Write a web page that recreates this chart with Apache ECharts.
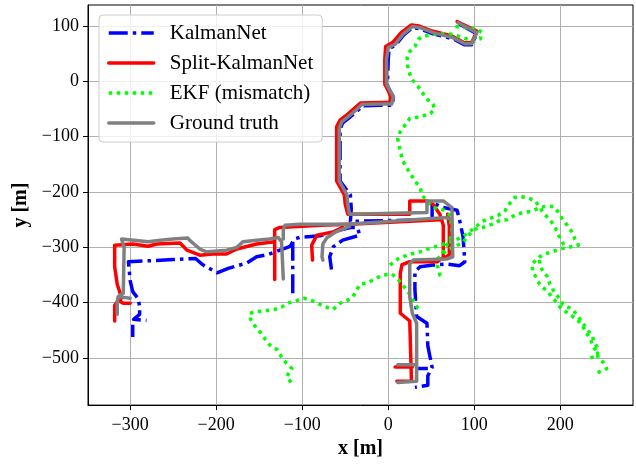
<!DOCTYPE html>
<html>
<head>
<meta charset="utf-8">
<script src="https://cdn.jsdelivr.net/npm/echarts@6/dist/echarts.min.js"></script>
<style>
  html, body { margin: 0; padding: 0; background: #fff; }
  #chart { width: 636px; height: 464px; }
</style>
</head>
<body>
<div id="chart"></div>
<script>
// ========= ticks =========
const xTicks = [-300, -200, -100, 0, 100, 200];
const yTicks = [-500, -400, -300, -200, -100, 0, 100];

// ========= KalmanNet =========
const knTop = [[82,104],[103,86],[97,66],[89,66],[75,77],[52,86],[37,95],[28,97],[18,84],[9,66],[1,59],[0,40],[-1,-8],[2,-17],[6,-28],[5,-43],[-10,-43],[-30,-44],[-35,-52],[-44,-64],[-53,-75],[-56,-87],[-56,-180],[-44,-205],[-43,-230],[-44,-253],[51,-250],[51,-219],[64,-228],[80,-233],[83,-251],[87,-281],[89,-326],[83,-333],[68,-330],[52,-332],[37,-335],[31,-344],[31,-376],[33,-425],[45,-437],[46,-478],[51,-517],[46,-532],[46,-549],[31,-553]];
const knE = [[33,-519],[46,-519]];
const knMid = [[-111,-383],[-111,-290],[-108,-284],[-103,-282],[-79,-279],[-60,-270],[-44,-264],[-36,-264],[-33,-278],[-53,-287],[-64,-299],[-68,-317],[-66,-340]];
const knLeft = [[-111,-290],[-114,-298],[-126,-305],[-140,-313],[-153,-317],[-164,-328],[-186,-338],[-199,-346],[-216,-331],[-224,-320],[-250,-322],[-302,-326],[-300,-360],[-297,-380],[-291,-392],[-289,-406],[-289,-421],[-296,-430],[-281,-432]];
const knTail = [[-297,-440],[-297,-462]];

// ========= Split-KalmanNet =========
const skTop = [[80,108],[103,91],[97,70],[88,70],[74,82],[51,91],[36,100],[27,102],[15,88],[5,70],[-3,63],[-4,40],[-4,-5],[0,-17],[3,-28],[2,-38],[-10,-38],[-32,-39],[-38,-47],[-47,-59],[-56,-70],[-60,-82],[-60,-180],[-51,-205],[-50,-222],[-47,-240],[25,-240],[25,-216],[45,-216],[52,-222],[60,-240],[64,-260],[64,-318],[57,-326],[25,-326],[16,-331],[14,-347],[14,-419],[25,-433],[27,-542],[10,-542]];
const skE = [[8,-516],[28,-516]];
const skCol = [[69,-240],[71,-262],[71,-313],[65,-320]];
const skLeft = [[-132,-358],[-132,-290],[-134,-290],[-153,-294],[-176,-303],[-188,-312],[-204,-312],[-219,-314],[-234,-305],[-242,-292],[-269,-294],[-279,-298],[-297,-294],[-318,-296],[-318,-335],[-315,-367],[-310,-390],[-312,-397]];
const skHookL = [[-300,-401],[-308,-401],[-314,-396],[-318,-405],[-318,-433]];
const skMid = [[-132,-290],[-132,-268],[-126,-264],[-79,-260],[-45,-258],[60,-250]];
const skHook = [[-53,-264],[-64,-272],[-83,-278],[-89,-296],[-88,-323]];

// ========= EKF (mismatch) =========
const ekfTop = [[78,99],[103,95],[109,88],[107,77],[99,72],[87,79],[75,85],[64,86],[52,85],[40,81],[35,76],[31,63],[25,54],[22,43],[23,22],[25,13],[29,1],[35,-10],[39,-19],[45,-32],[52,-41],[54,-50],[49,-58],[37,-64],[25,-67],[19,-80],[14,-91],[11,-103],[14,-126],[17,-144],[23,-160],[31,-180],[37,-192],[40,-207],[46,-219],[52,-228],[64,-232],[72,-242],[74,-269],[72,-287],[66,-300],[57,-332],[60,-350],[64,-358]];
const ekfLow = [[-113,-544],[-118,-533],[-112,-519],[-119,-508],[-124,-498],[-129,-485],[-138,-476],[-143,-466],[-149,-453],[-155,-442],[-160,-430],[-161,-419],[-152,-416],[-141,-414],[-132,-412],[-124,-408],[-117,-401],[-106,-396],[-98,-392],[-89,-396],[-82,-401],[-74,-407],[-64,-412],[-56,-401],[-48,-396],[-41,-389],[-33,-367],[-24,-364],[-13,-355],[-6,-350],[4,-348],[11,-357],[16,-366],[25,-385],[31,-401],[35,-412]];
const ekfA = [[2,-332],[11,-321],[22,-314],[31,-310],[40,-307],[49,-301],[57,-298],[68,-292],[78,-287],[87,-280],[95,-271],[101,-264],[109,-253],[118,-248],[128,-242],[136,-233],[142,-219],[147,-210],[153,-208],[161,-210],[171,-216],[176,-228],[182,-241],[188,-250],[194,-264],[200,-285],[206,-300]];
const ekfB = [[57,-321],[68,-305],[78,-298],[87,-291],[92,-280],[101,-267],[110,-264],[121,-258],[130,-251],[138,-250],[147,-242],[156,-237],[165,-235],[174,-230],[182,-226],[192,-226],[197,-235],[203,-250],[208,-260],[214,-273],[217,-285],[221,-296],[209,-300],[200,-303],[190,-308],[182,-312],[176,-317],[167,-330],[168,-344],[173,-357],[176,-367],[185,-380],[192,-392],[196,-401],[202,-412],[211,-421],[219,-430],[225,-439],[229,-451],[235,-466],[238,-478],[243,-491],[244,-500],[250,-508],[254,-519],[249,-523],[240,-528]];
const ekfC = [[176,-323],[176,-332],[180,-344],[185,-353],[188,-367],[194,-383],[200,-394],[203,-403],[214,-412],[219,-421],[226,-437],[231,-448],[237,-460],[240,-473],[244,-483],[243,-496],[232,-501]];

// ========= Ground truth =========
const gtTop = [[81,106],[103,88],[97,68],[89,68],[75,79],[52,88],[37,97],[28,99],[17,85],[8,67],[0,61],[-2,40],[-2,-5],[2,-17],[6,-28],[4,-41],[-10,-41],[-31,-42],[-36,-50],[-45,-62],[-54,-73],[-57,-85],[-57,-180],[-48,-205],[-47,-223],[-45,-240],[45,-237],[45,-216],[64,-216],[74,-228],[75,-317],[68,-321],[29,-323],[25,-330],[25,-389],[28,-419],[33,-437],[33,-542],[11,-544]];
const gtE = [[11,-512],[33,-512]];
const gtLeft = [[-315,-421],[-315,-401],[-314,-389],[-308,-383],[-307,-300],[-310,-285],[-279,-290],[-265,-287],[-250,-285],[-233,-283],[-231,-287],[-219,-303],[-211,-308],[-202,-307],[-188,-305],[-176,-300],[-169,-290],[-153,-287],[-138,-285],[-128,-282],[-124,-290],[-122,-357]];
const gtHookL = [[-314,-389],[-300,-392]];
const gtMid = [[-122,-285],[-122,-269],[-120,-260],[-103,-258],[-79,-258],[-47,-258],[68,-246],[74,-250]];
const gtHook = [[-45,-262],[-62,-273],[-71,-282],[-76,-294],[-77,-317],[-76,-323]];

// ========= helpers =========
const FONT = '"Liberation Serif", "DejaVu Serif", serif';
const GAP = ['-', '-'];
function join(...parts){
    return parts.flatMap((p,i) => i ? [GAP, ...p] : p);
}
const minus = v => String(v).replace('-', '\u2212');

function line(name, color, data, type, cap){
    return {
        name, type: 'line', data,
        symbol: 'none', showSymbol: false,
        connectNulls: false, animation: false,
        lineStyle: { color, width: 3.5, type, cap: cap || 'butt', join: 'round' },
        itemStyle: { color }
    };
}

const chart = echarts.init(document.getElementById('chart'));
chart.setOption({
    animation: false,
    backgroundColor: '#fff',
    textStyle: { fontFamily: FONT },
    grid: { left: 88, right: 3, top: 5, bottom: 54, show: true, borderColor: '#000', borderWidth: 1, backgroundColor: 'transparent' },
    legend: {
        orient: 'vertical', left: 99, top: 15,
        padding: [7, 9, 8, 8],
        itemWidth: 45, itemHeight: 14, itemGap: 8,
        itemStyle: { opacity: 0 },
        lineStyle: { width: 3.5 },
        backgroundColor: 'rgba(255,255,255,0.8)',
        borderColor: '#cccccc', borderWidth: 1, borderRadius: 4,
        textStyle: { fontFamily: FONT, fontSize: 21, color: '#000', lineHeight: 22, padding: [0,0,0,11] },
        data: ['KalmanNet', 'Split-KalmanNet', 'EKF (mismatch)', 'Ground truth']
    },
    xAxis: {
        type: 'value', min: -349, max: 284.5,
        name: 'x [m]', nameLocation: 'middle', nameGap: 33,
        nameTextStyle: { fontFamily: FONT, fontSize: 20, fontWeight: 'bold', color: '#000' },
        axisLine: { show: true, onZero: false, lineStyle: { color: '#000', width: 1 } },
        axisTick: { show: true, inside: false, length: 5, customValues: xTicks, lineStyle: { color: '#000', width: 1 } },
        axisLabel: { customValues: xTicks, margin: 11, fontFamily: FONT, fontSize: 18, color: '#000', formatter: minus },
        splitLine: { show: true, lineStyle: { color: '#b0b0b0', width: 1 } }
    },
    yAxis: {
        type: 'value', min: -585, max: 138,
        name: 'y [m]', nameLocation: 'middle', nameGap: 44,
        nameTextStyle: { fontFamily: FONT, fontSize: 20, fontWeight: 'bold', color: '#000' },
        axisLine: { show: true, onZero: false, lineStyle: { color: '#000', width: 1 } },
        axisTick: { show: true, inside: false, length: 5, customValues: yTicks, lineStyle: { color: '#000', width: 1 } },
        axisLabel: { customValues: yTicks, margin: 9, fontFamily: FONT, fontSize: 18, color: '#000', formatter: minus },
        splitLine: { show: true, lineStyle: { color: '#b0b0b0', width: 1 } }
    },
    series: [
        line('KalmanNet', '#0000ff', join(knTop, knE, knMid, knLeft, knTail), [19, 5, 3.5, 5]),
        line('Split-KalmanNet', '#ff0000', join(skTop, skE, skCol, skLeft, skHookL, skMid, skHook), 'solid', 'round'),
        line('EKF (mismatch)', '#00ff00', join(ekfTop, ekfLow, ekfA, ekfB, ekfC), [3.5, 4.5]),
        line('Ground truth', '#808080', join(gtTop, gtE, gtLeft, gtHookL, gtMid, gtHook), 'solid', 'round')
    ]
});
</script>
</body>
</html>
